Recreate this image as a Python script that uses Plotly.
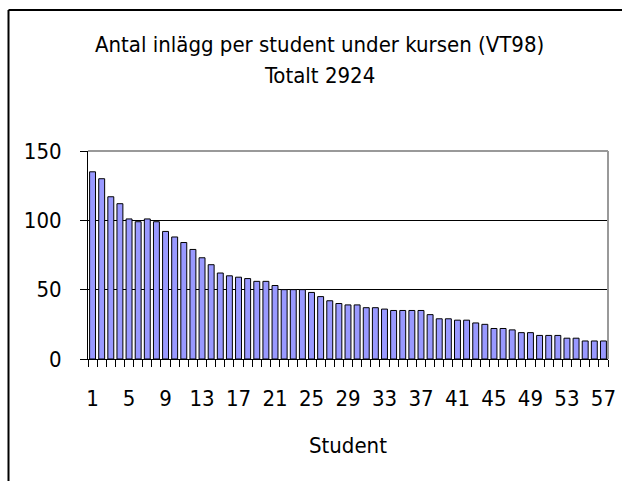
import plotly.graph_objects as go

students = list(range(1, 58))
posts = [135, 130, 117, 112, 101, 99, 101, 99, 92, 88,
         84, 79, 73, 68, 62, 60, 59, 58, 56, 56,
         53, 50, 50, 50, 48, 45, 42, 40, 39, 39,
         37, 37, 36, 35, 35, 35, 35, 32, 29, 29,
         28, 28, 26, 25, 22, 22, 21, 19, 19, 17,
         17, 17, 15, 15, 13, 13, 13]
x_tick_vals = list(range(1, 58, 4))
x_tick_text = [str(v) for v in x_tick_vals]
y_tick_vals = [0, 50, 100, 150]
title_lines = ["Antal inlägg per student under kursen (VT98)", "Totalt 2924"]
x_title = "Student"

FONT = "DejaVu Sans Condensed, Liberation Sans Narrow, Arial Narrow, sans-serif"
FS = 22

fig = go.Figure(go.Bar(
    x=students, y=posts,
    marker=dict(color="#9999FF", line=dict(color="black", width=1)),
))

L, R, T, B = 88, 14, 151, 122
W, H = 622, 481
pw, ph = W - L - R, H - T - B

def px(xp):
    return (xp - L) / pw

def py(yp):
    return (H - B - yp) / ph

fig.update_layout(
    width=W, height=H,
    margin=dict(l=L, r=R, t=T, b=B, autoexpand=False),
    paper_bgcolor="white", plot_bgcolor="white",
    bargap=0.35, showlegend=False,
    font=dict(family=FONT, size=FS, color="black"),
    xaxis=dict(
        range=[0.5, 57.5], tickmode="array", tickvals=x_tick_vals, ticktext=x_tick_text,
        ticks="", showgrid=False, zeroline=False, automargin=False,
        showline=True, linecolor="black", linewidth=1,
        ticklabelstandoff=20,
        minor=dict(tick0=0.5, dtick=1, ticks="outside", ticklen=7, tickcolor="black", tickwidth=1, showgrid=False),
        tickfont=dict(size=FS),
    ),
    yaxis=dict(
        range=[0, 150], tickmode="array", tickvals=y_tick_vals,
        ticks="outside", ticklen=7, tickcolor="black", tickwidth=1, automargin=False,
        showgrid=True, gridcolor="black", gridwidth=1, zeroline=False,
        showline=True, linecolor="black", linewidth=1,
        ticklabelstandoff=14, tickfont=dict(size=FS),
    ),
    shapes=[
        dict(type="line", xref="paper", yref="paper", x0=0, x1=1, y0=1, y1=1,
             line=dict(color="#999999", width=2)),
        dict(type="line", xref="paper", yref="paper", x0=1, x1=1, y0=0, y1=1,
             line=dict(color="#999999", width=2)),
        dict(type="line", xref="paper", yref="paper", x0=px(8.5), x1=px(630), y0=py(10), y1=py(10),
             line=dict(color="black", width=2)),
        dict(type="line", xref="paper", yref="paper", x0=px(8.5), x1=px(8.5), y0=py(10), y1=py(490),
             line=dict(color="black", width=2)),
    ],
    annotations=[
        dict(text=title_lines[0], xref="paper", yref="paper", x=px(319), y=py(44),
             showarrow=False, xanchor="center", yanchor="middle", font=dict(size=FS)),
        dict(text=title_lines[1], xref="paper", yref="paper", x=px(319), y=py(75),
             showarrow=False, xanchor="center", yanchor="middle", font=dict(size=FS)),
        dict(text=x_title, xref="paper", yref="paper", x=px(348), y=py(445),
             showarrow=False, xanchor="center", yanchor="middle", font=dict(size=FS)),
    ],
)

fig.write_html("out.html", config={"displayModeBar": False},
               post_script="document.body.style.margin='0';document.body.style.overflow='hidden';")
